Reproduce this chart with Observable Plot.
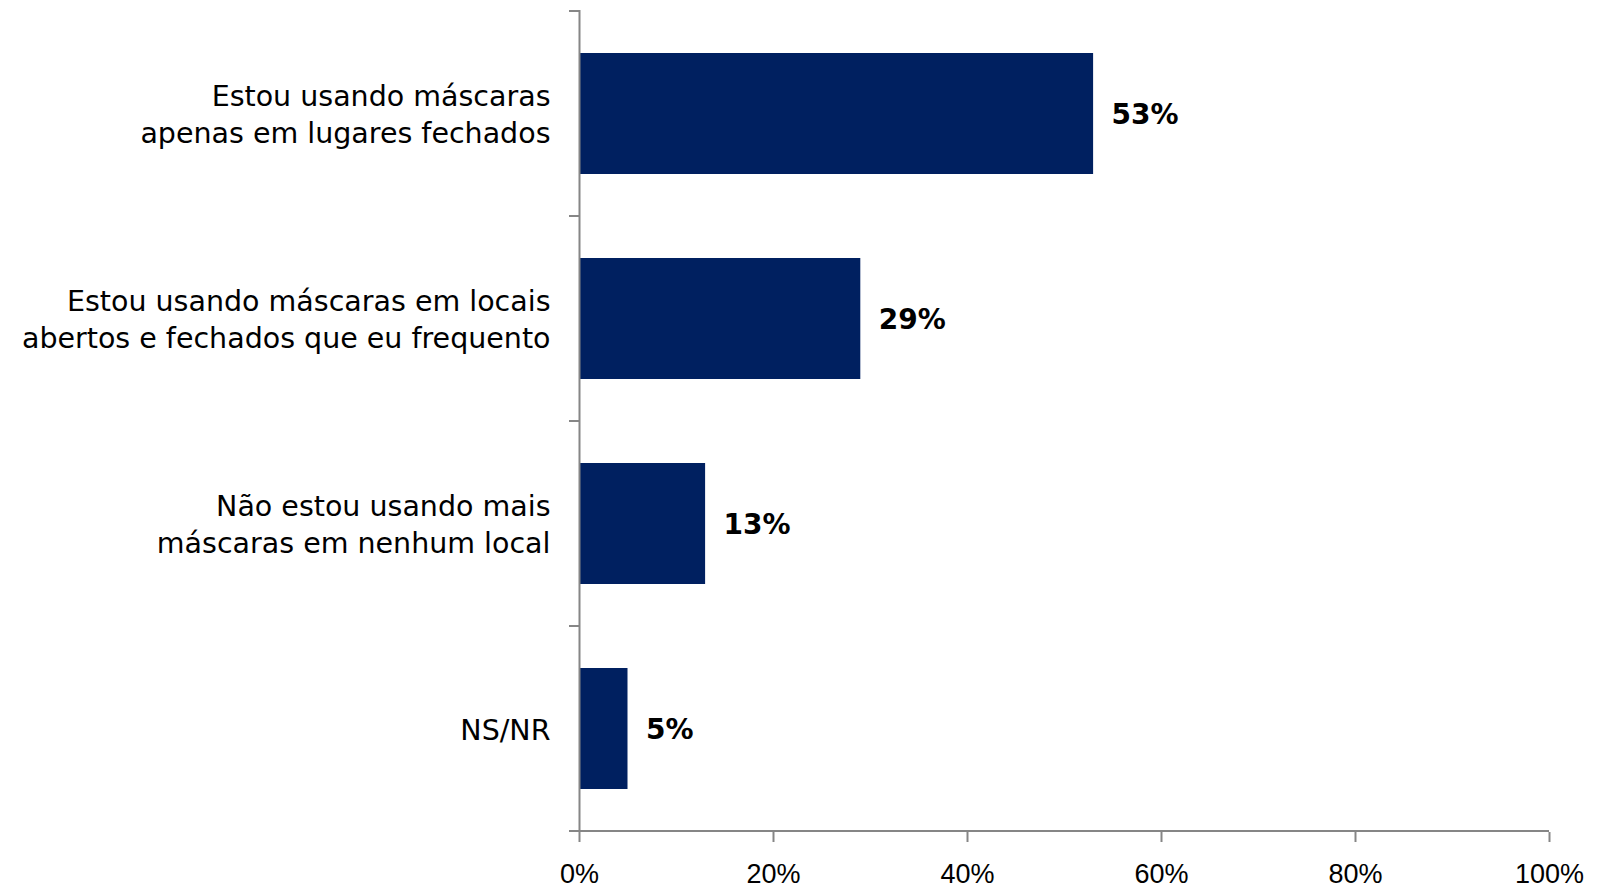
<!DOCTYPE html>
<html><head><meta charset="utf-8">
<script src="https://cdn.jsdelivr.net/npm/d3@7"></script>
<script src="https://cdn.jsdelivr.net/npm/@observablehq/plot@0.6"></script>
<style>html,body{margin:0;padding:0;background:#fff} #chart svg{display:block}</style>
</head><body><div id="chart"></div>
<script>
const categories = [
  "Estou usando máscaras\napenas em lugares fechados",
  "Estou usando máscaras em locais\nabertos e fechados que eu frequento",
  "Não estou usando mais\nmáscaras em nenhum local",
  "NS/NR"
];
const values = [53, 29, 13, 5];
const xTicks = [0, 20, 40, 60, 80, 100];
const data = categories.map((c, i) => ({category: c, value: values[i]}));

const axisColor = "#868686";
const plot = Plot.plot({
  width: 1603, height: 888,
  marginLeft: 579, marginRight: 54, marginTop: 10, marginBottom: 56,
  style: {background: "#fff", color: "#000"},
  x: {domain: [0, 100]},
  y: {domain: categories, paddingInner: 0.41, paddingOuter: 0.205},
  marks: [
    Plot.barX(data, {x: "value", y: "category", fill: "#002060"}),
    Plot.text(data, {x: "value", y: "category", text: d => d.value + "%", textAnchor: "start", dx: 18, dy: 1,
      fontSize: 28, fontWeight: "bold", fontFamily: "DejaVu Sans", fill: "#000"}),
    Plot.ruleX([0], {stroke: axisColor, strokeWidth: 2}),
    Plot.axisX({ticks: xTicks, tickSize: 10, text: null, stroke: axisColor, strokeWidth: 2, label: null}),
    Plot.axisX({ticks: xTicks, tickSize: 0, tickPadding: 31, tickFormat: d => d + "%", fontSize: 27,
      fontFamily: "Liberation Sans", fill: "#000", label: null}),
    Plot.axisY({tickSize: 0, tickPadding: 29, dy: -1, fontSize: 28.5, fontFamily: "DejaVu Sans", lineHeight: 1.29,
      fill: "#000", label: null})
  ]
});
document.getElementById("chart").appendChild(plot);

// category boundary ticks and baseline, derived from the library's scales
const ys = plot.scale("y"), xs = plot.scale("x");
const step = ys.step ?? ys.bandwidth / (1 - ys.paddingInner);
const half = ys.paddingInner * step / 2;
const bounds = categories.map(c => ys.apply(c) - half);
bounds.push(ys.apply(categories[categories.length - 1]) + ys.bandwidth + half);
const x0 = xs.apply(0), x1 = xs.apply(100);
const svg = d3.select(plot);
const g = svg.append("g").attr("stroke", axisColor).attr("stroke-width", 2);
g.selectAll("line.b").data(bounds).join("line")
  .attr("x1", x0 - 10).attr("x2", x0).attr("y1", d => d).attr("y2", d => d);
g.append("line").attr("x1", x0 - 10).attr("x2", x1)
  .attr("y1", bounds[bounds.length - 1]).attr("y2", bounds[bounds.length - 1]);
</script></body></html>
